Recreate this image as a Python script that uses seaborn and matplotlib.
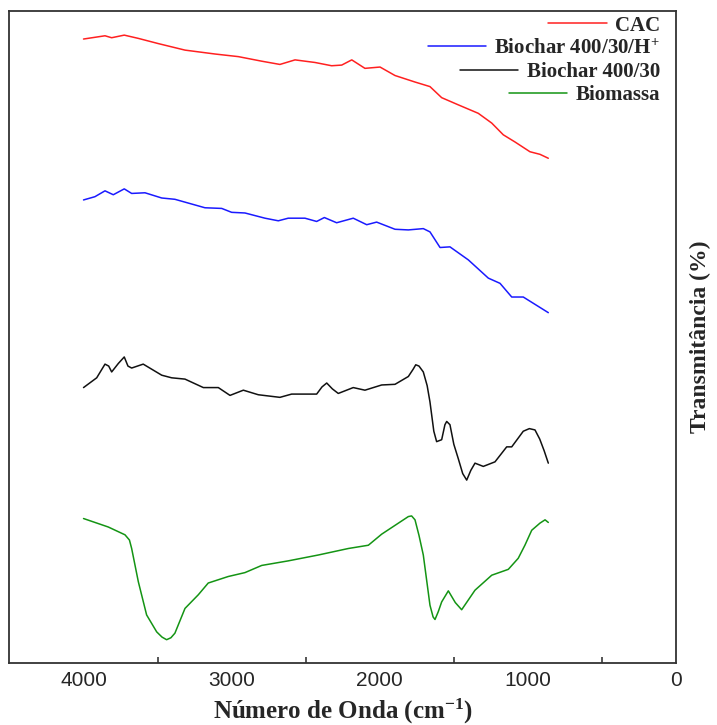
import pandas as pd
import numpy as np
import matplotlib
matplotlib.use("Agg")
import matplotlib.pyplot as plt
import seaborn as sns

wn_cac = [4000, 3855, 3810, 3725, 3630, 3495, 3315, 3112, 2955, 2797, 2674, 2572, 2437,
          2325, 2257, 2189, 2100, 1998, 1897, 1762, 1661, 1582, 1470, 1335, 1244, 1166,
          1087, 986, 918, 862]
t_cac = [95.7, 96.2, 95.9, 96.3, 95.8, 95.0, 94.0, 93.4, 93.0, 92.3, 91.8, 92.5, 92.1,
         91.6, 91.7, 92.5, 91.2, 91.4, 90.1, 89.1, 88.4, 86.7, 85.6, 84.3, 82.8, 81.0,
         79.9, 78.4, 78.0, 77.4]

wn_bio_h = [4000, 3923, 3855, 3799, 3725, 3675, 3585, 3472, 3383, 3180, 3067, 3000, 2910,
            2775, 2685, 2618, 2505, 2426, 2374, 2291, 2179, 2088, 2021, 1897, 1807, 1706,
            1661, 1593, 1526, 1402, 1267, 1188, 1109, 1031, 862]
t_bio_h = [71.0, 71.5, 72.4, 71.8, 72.7, 72.0, 72.1, 71.3, 71.1, 69.8, 69.7, 69.1, 69.0,
           68.2, 67.8, 68.2, 68.2, 67.7, 68.3, 67.5, 68.2, 67.2, 67.6, 66.5, 66.4, 66.6,
           66.1, 63.7, 63.8, 61.8, 59.0, 58.2, 56.1, 56.1, 53.7]

wn_bio = [4000, 3911, 3855, 3830, 3810, 3765, 3725, 3700, 3675, 3597, 3472, 3405, 3315,
          3191, 3090, 3011, 2921, 2820, 2674, 2595, 2426, 2390, 2358, 2320, 2280, 2179,
          2100, 1987, 1897, 1807, 1775, 1757, 1735, 1706, 1680, 1661, 1635, 1616, 1582,
          1560, 1548, 1526, 1500, 1470, 1440, 1413, 1385, 1357, 1301, 1222, 1143, 1109,
          1031, 990, 952, 920, 890, 862]
t_bio = [42.2, 43.7, 45.8, 45.5, 44.6, 45.9, 46.9, 45.5, 45.2, 45.8, 44.1, 43.7, 43.5,
         42.2, 42.2, 41.0, 41.8, 41.1, 40.7, 41.2, 41.2, 42.3, 42.9, 42.0, 41.3, 42.2,
         41.8, 42.6, 42.7, 43.9, 45.0, 45.7, 45.5, 44.6, 42.5, 40.0, 35.5, 33.9, 34.2,
         36.5, 37.0, 36.5, 33.5, 31.3, 29.0, 28.0, 29.5, 30.6, 30.1, 30.8, 33.1, 33.1,
         35.5, 35.9, 35.7, 34.3, 32.5, 30.6]

wn_biom = [4000, 3833, 3720, 3690, 3675, 3630, 3574, 3506, 3470, 3439, 3410, 3383, 3315,
           3225, 3158, 3023, 2910, 2797, 2618, 2415, 2212, 2077, 1987, 1807, 1785, 1762,
           1735, 1706, 1661, 1640, 1627, 1605, 1582, 1537, 1490, 1447, 1357, 1244, 1132,
           1065, 1020, 974, 918, 884, 862]
t_biom = [22.1, 20.8, 19.6, 18.8, 17.5, 12.4, 7.3, 4.7, 3.9, 3.5, 3.8, 4.5, 8.3,
          10.4, 12.2, 13.2, 13.8, 14.9, 15.6, 16.5, 17.5, 18.0, 19.7, 22.4, 22.5, 21.9,
          19.5, 16.5, 8.8, 7.0, 6.6, 7.8, 9.3, 11.0, 9.2, 8.1, 11.1, 13.4, 14.3,
          16.0, 18.0, 20.3, 21.4, 21.9, 21.5]

amostras = ["CAC", "Biochar 400/30/H$^{+}$", "Biochar 400/30", "Biomassa"]
cores = ["#ff2020", "#1a1aff", "#111111", "#149414"]

df = pd.concat([
    pd.DataFrame({"wn": wn_cac, "T": t_cac, "amostra": amostras[0]}),
    pd.DataFrame({"wn": wn_bio_h, "T": t_bio_h, "amostra": amostras[1]}),
    pd.DataFrame({"wn": wn_bio, "T": t_bio, "amostra": amostras[2]}),
    pd.DataFrame({"wn": wn_biom, "T": t_biom, "amostra": amostras[3]}),
], ignore_index=True)

sns.set_style("white")
plt.rcParams["font.family"] = ["Liberation Serif", "DejaVu Serif"]
plt.rcParams["mathtext.fontset"] = "custom"
plt.rcParams["mathtext.rm"] = "Liberation Serif:bold"
plt.rcParams["mathtext.it"] = "Liberation Serif:bold"
plt.rcParams["mathtext.bf"] = "Liberation Serif:bold"

fig = plt.figure(figsize=(7.17, 7.25), dpi=100)
ax = fig.add_axes([0.0132, 0.0862, 0.9296, 0.8986])

sns.lineplot(data=df, x="wn", y="T", hue="amostra", hue_order=amostras,
             palette=dict(zip(amostras, cores)), estimator=None, sort=False,
             linewidth=1.1, ax=ax)

ax.set_xlim(4500, 0)
ax.set_ylim(0, 100)
ax.set_xticks([4000, 3000, 2000, 1000, 0])
ax.set_xticks([3500, 2500, 1500, 500], minor=True)
ax.set_yticks([])
ax.tick_params(axis="x", which="major", direction="in", length=7, width=1.1,
               pad=6, labelsize=15, top=False)
ax.tick_params(axis="x", which="minor", direction="in", length=4, width=1.1,
               bottom=True)
for lbl in ax.get_xticklabels():
    lbl.set_family("Liberation Sans")
for sp in ax.spines.values():
    sp.set_color("#333333")
    sp.set_linewidth(1.3)

ax.set_xlabel("Número de Onda (cm$^{-1}$)", fontsize=18, fontweight="bold", labelpad=5)
ax.yaxis.set_label_position("right")
ax.set_ylabel("Transmitância (%)", fontsize=17, fontweight="bold", labelpad=10)

handles, labels = ax.get_legend_handles_labels()
leg = ax.legend(handles, labels, loc="upper right", bbox_to_anchor=(0.976, 0.993),
                frameon=False, borderpad=0, borderaxespad=0, handlelength=2.8,
                handletextpad=0.4, labelspacing=0.15,
                prop={"family": "Liberation Serif", "weight": "bold", "size": 15})
for col in leg._legend_handle_box.get_children():
    col.align = "right"

fig.savefig("out.png", dpi=100)
